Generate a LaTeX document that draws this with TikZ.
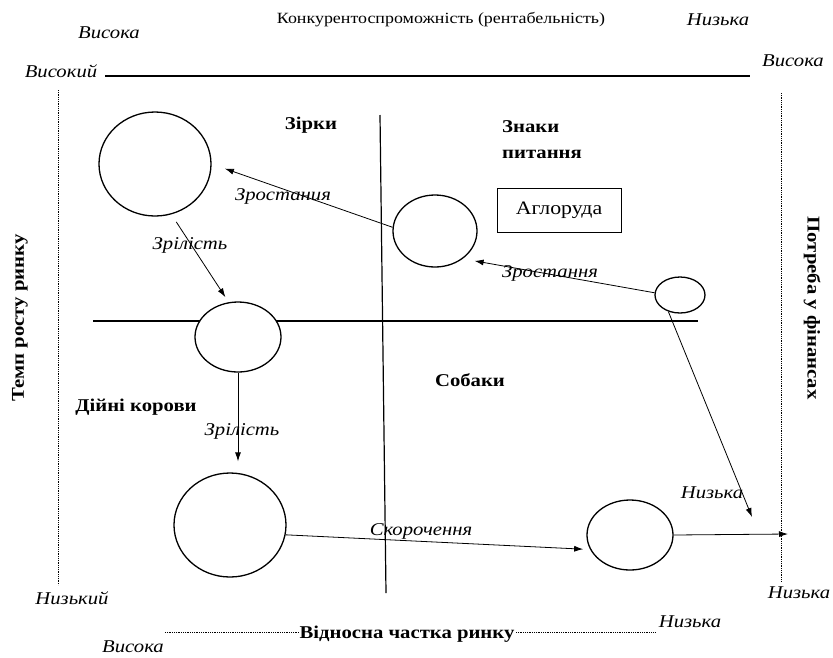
\documentclass[tikz,border=0pt]{standalone}
\usepackage{fontspec}
\setmainfont[FakeStretch=1.15]{Liberation Serif}
\usetikzlibrary{shapes.geometric, arrows.meta, positioning}

\tikzset{
  bubble/.style={ellipse, draw, line width=1.3pt, fill=white, inner sep=0pt},
  lab/.style={font=\fontsize{18}{21}\selectfont\itshape, inner sep=1pt},
  quad/.style={font=\fontsize{18}{26}\selectfont\bfseries, inner sep=1pt},
  arr/.style={-{Latex[length=9pt,width=6pt]}, line width=0.8pt},
}

\begin{document}
\begin{tikzpicture}[x=1pt, y=-1pt, line width=1pt]
  \useasboundingbox (0,0) rectangle (833,657);

  % axes and quadrant lines
  \draw[line width=1.2pt] (105,76) -- (750,76);
  \draw[densely dotted, line width=0.8pt] (58,90) -- (58,585);
  \draw[densely dotted, line width=0.8pt] (781,93) -- (781,582);
  \draw[densely dotted, line width=0.8pt] (165,632) -- (656,632);
  \draw[line width=1.2pt] (380,115) -- (386,593);
  \draw[line width=1.2pt] (93,321) -- (698,321);

  % scale labels
  \node[lab] (hightop) at (109,33) {Висока};
  \node[font=\fontsize{15.6}{18}\selectfont] (title) at (441,20) {Конкурентоспроможність (рентабельність)};
  \node[lab] (lowtop) at (718,20) {Низька};
  \node[lab] (hirate) at (61,71) {Високий};
  \node[lab] (hineed) at (793,61) {Висока};
  \node[lab] (lorate) at (72,598) {Низький};
  \node[lab] (loneed) at (799,593) {Низька};
  \node[lab] (loshare) at (690,622) {Низька};
  \node[lab] (hishare) at (133,647) {Висока};
  \node[quad, fill=white] (share) at (407,634) {Відносна частка ринку};
  \node[quad, rotate=90] (growth) at (20,318) {Темп росту ринку};
  \node[quad, rotate=-90] (need) at (812,308) {Потреба у фінансах};

  % quadrants
  \node[quad] (stars) at (311,125) {Зірки};
  \node[quad, align=left] (qmarks) at (542,140) {Знаки\\питання};
  \node[quad] (dogs) at (470,380) {Собаки};
  \node[quad] (cows) at (136,407) {Дійні корови};
  \node[draw, line width=0.8pt, minimum width=124pt, minimum height=44pt,
        font=\fontsize{19}{22}\selectfont] (ore) at (559,210) {Аглоруда};

  % products
  \node[bubble, minimum width=112pt, minimum height=104pt] (star) at (155,164) {};
  \node[bubble, minimum width=86pt, minimum height=70pt] (cowtop) at (238,337) {};
  \node[bubble, minimum width=112pt, minimum height=104pt] (cowlow) at (230,525) {};
  \node[bubble, minimum width=84pt, minimum height=72pt] (quest) at (435,231) {};
  \node[bubble, minimum width=50pt, minimum height=36pt] (small) at (680,295) {};
  \node[bubble, minimum width=86pt, minimum height=70pt] (dog) at (630,535) {};
  \coordinate (lowend) at (752,517);
  \coordinate (rightend) at (788,534);

  \path[arr]
    (quest.175) edge[shorten >=14pt] (star.0)
    (star.-72) edge[shorten <=9pt, shorten >=6pt] (cowtop.105)
    (cowtop.south) edge[shorten >=11pt] (cowtop.south |- cowlow.north)
    (cowlow.-10) edge[shorten >=7pt] (dog.-160)
    (small.175) edge[shorten >=12pt] (quest.-45)
    (small.-125) edge (lowend)
    (dog.east) edge (rightend)
    ;

  % arrow labels
  \node[lab] (grow1) at (283,196) {Зростания};
  \node[lab] (mature1) at (190,245) {Зрілість};
  \node[lab] (grow2) at (550,273) {Зростання};
  \node[lab] (mature2) at (242,431) {Зрілість};
  \node[lab] (shrink) at (421,531) {Скорочення};
  \node[lab] (low) at (712,493) {Низька};
\end{tikzpicture}
\end{document}
